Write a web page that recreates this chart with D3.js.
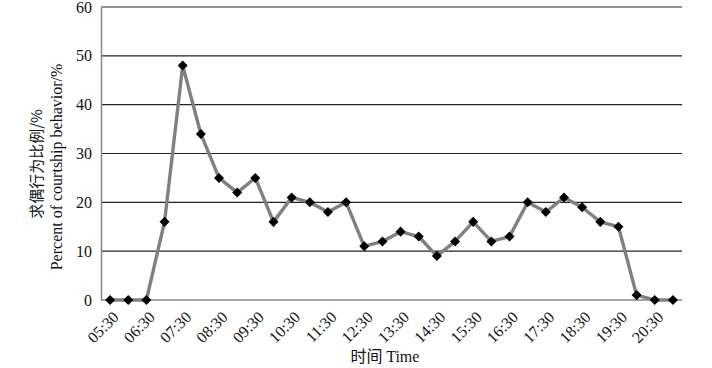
<!DOCTYPE html>
<html>
<head>
<meta charset="utf-8">
<script src="https://cdn.jsdelivr.net/npm/d3@7"></script>
<style>
  body { margin: 0; background: #fff; }
  text { font-family: "Liberation Serif", "Times New Roman", serif; fill: #111; }
  .cjk { font-family: "Noto Sans CJK SC", sans-serif; }
</style>
</head>
<body>
<svg id="chart" width="712" height="368"></svg>
<script>
// half-hour slots, 05:30 .. 21:00
const times = ["05:30", "06:00", "06:30", "07:00", "07:30", "08:00", "08:30", "09:00",
               "09:30", "10:00", "10:30", "11:00", "11:30", "12:00", "12:30", "13:00",
               "13:30", "14:00", "14:30", "15:00", "15:30", "16:00", "16:30", "17:00",
               "17:30", "18:00", "18:30", "19:00", "19:30", "20:00", "20:30", "21:00"];
const percents = [0, 0, 0, 16, 48, 34, 25, 22, 25, 16, 21, 20, 18, 20, 11, 12,
                  14, 13, 9, 12, 16, 12, 13, 20, 18, 21, 19, 16, 15, 1, 0, 0];
const yTicks = [0, 10, 20, 30, 40, 50, 60];
// labels only every hour
const tickLabels = ["05:30", "06:30", "07:30", "08:30", "09:30", "10:30", "11:30", "12:30",
                    "13:30", "14:30", "15:30", "16:30", "17:30", "18:30", "19:30", "20:30"];

let mLeft = 101, mRight = 682, mTop = 7, mBottom = 300;
let svg = d3.select("#chart");

let x = d3.scalePoint()
    .domain(times)
    .range([mLeft, mRight])
    .padding(0.5);

let y = d3.scaleLinear()
    .domain([0, 60])
    .range([mBottom, mTop]);

// gridlines
svg.append("g")
    .selectAll("line")
    .data(yTicks.filter(d => d > 0))
    .enter().append("line")
    .attr("x1", mLeft).attr("x2", mRight)
    .attr("y1", d => y(d)).attr("y2", d => y(d))
    .attr("stroke", "#222")
    .attr("stroke-width", 1.2);

// y axis
let yAxis = svg.append("g")
    .attr("transform", `translate(${mLeft},0)`)
    .call(d3.axisLeft(y).tickValues(yTicks).tickSize(0).tickPadding(9));
yAxis.select(".domain").attr("stroke", "#888").attr("stroke-width", 1.5);
yAxis.selectAll("text").style("font-size", "16px").style("font-family", "Liberation Serif");

// x axis
let xAxis = svg.append("g")
    .attr("transform", `translate(0,${mBottom})`)
    .call(d3.axisBottom(x).tickValues(tickLabels).tickSize(0).tickSizeOuter(0));
xAxis.select(".domain").attr("stroke", "#888").attr("stroke-width", 1.5)
    .attr("d", `M${mLeft},0H${mRight}`);
xAxis.selectAll("text")
    .style("font-size", "16px")
    .style("font-family", "Liberation Serif")
    .attr("text-anchor", "end")
    .attr("dy", 0)
    .attr("transform", "translate(7,16) rotate(-45)");

// line
let line = d3.line()
    .x((d, i) => x(times[i]))
    .y(d => y(d));

svg.append("path")
    .datum(percents)
    .attr("d", line)
    .attr("fill", "none")
    .attr("stroke", "#808080")
    .attr("stroke-width", 3.4)
    .attr("stroke-linejoin", "round");

// diamond markers
svg.append("g")
    .selectAll("path")
    .data(percents)
    .enter().append("path")
    .attr("d", d3.symbol().type(d3.symbolDiamond2).size(64))
    .attr("transform", (d, i) => `translate(${x(times[i])},${y(d)})`)
    .attr("fill", "#000");

// axis titles
svg.append("text")
    .attr("class", "cjk")
    .attr("transform", "translate(42,164) rotate(-90)")
    .attr("text-anchor", "middle")
    .style("font-size", "15px")
    .text("求偶行为比例/%");

svg.append("text")
    .attr("transform", "translate(62,167) rotate(-90)")
    .attr("text-anchor", "middle")
    .style("font-size", "16px")
    .text("Percent of courtship behavior/%");

let xt = svg.append("text")
    .attr("x", 385)
    .attr("y", 362)
    .attr("text-anchor", "middle")
    .style("font-size", "16px");
xt.append("tspan").attr("class", "cjk").text("时间 ");
xt.append("tspan").text("Time");
</script>
</body>
</html>
